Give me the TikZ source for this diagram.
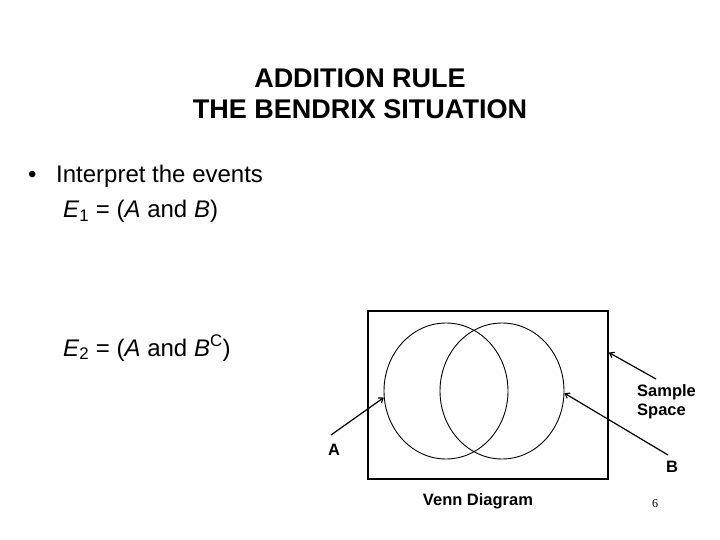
\documentclass[tikz,border=0pt]{standalone}
\usepackage{fontspec}
\setmainfont{Liberation Sans}
\newfontfamily\pagenumfont{Liberation Serif}
\usetikzlibrary{shapes.geometric,arrows.meta,calc}

\tikzset{
    title/.style={font=\fontsize{27}{31}\selectfont\bfseries, align=center, inner sep=0},
    body/.style={font=\fontsize{24}{28}\selectfont, anchor=base west, inner sep=0},
    lbl/.style={font=\fontsize{16.5}{19}\selectfont\bfseries, inner sep=0},
    venn/.style={draw, ellipse, line width=0.9pt, minimum width=124pt, minimum height=136pt, inner sep=0},
    pointer/.style={line width=1.2pt, -{Straight Barb[length=4pt,width=6pt]}}
}

\begin{document}
\begin{tikzpicture}[x=1pt, y=-1pt]
    \useasboundingbox (0,0) rectangle (720,540);

    % title
    \node [title, anchor=base] (head1) at (360,88) {ADDITION RULE};
    \node [title, anchor=base] (head2) at (360,119) {THE BENDRIX SITUATION};

    % bullet text
    \node [body] (dot) at (28,183) {\textbullet};
    \node [body] (line1) at (56,183) {Interpret the events};
    \node [body] (line2) at (63,218) {\textit{E}\textsubscript{1} = (\textit{A} and \textit{B})};
    \node [body] (line3) at (63,356) {\textit{E}\textsubscript{2} = (\textit{A} and \textit{B}\textsuperscript{C})};

    % sample space and events
    \node [draw, line width=1.8pt, minimum width=240pt, minimum height=168pt, inner sep=0] (space) at (488,395) {};
    \node [venn] (setA) at (446,391) {};
    \node [venn] (setB) at (502,391) {};

    % labels
    \node [lbl] (labA) at (334,450) {A};
    \node [lbl] (labB) at (672,467) {B};
    \node [lbl, align=left, anchor=north west] (labS) at (637,384) {Sample\\Space};
    \node [lbl] (labV) at (478,501) {Venn Diagram};
    \node [font=\pagenumfont\fontsize{12}{14}\selectfont, inner sep=0] (pnum) at (655,504) {6};

    % arrows
    \coordinate (tailA) at (331,435);
    \coordinate (tailB) at (668,455);
    \coordinate (tailS) at (656,379);
    \draw [pointer] (tailA) -- (setA.186);
    \draw [pointer] (tailB) -- (setB.358);
    \draw [pointer] (tailS) -- ($(space.north east)!0.25!(space.south east)$);
\end{tikzpicture}
\end{document}
